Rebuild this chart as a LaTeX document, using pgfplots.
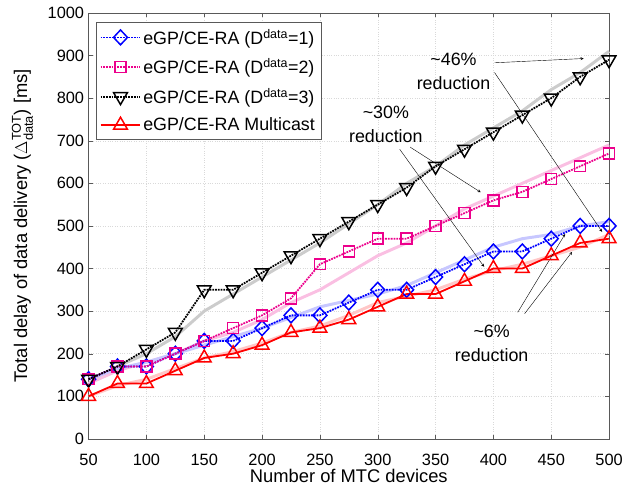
\documentclass[border=0pt]{standalone}
\usepackage{amsmath}
\usepackage{fontspec}
\setmainfont{Liberation Sans}
\usepackage{pgfplots}
\pgfplotsset{compat=1.18}
\begin{document}
\begin{tikzpicture}
\begin{axis}[
  scale only axis, width=523bp, height=428bp,
  xmin=50, xmax=500, ymin=0, ymax=1000,
  xtick={50,100,...,500}, ytick={0,100,...,1000},
  /pgf/number format/assume math mode=true,
  /pgf/number format/1000 sep={},
  tick label style={font=\fontsize{16.5}{18}\selectfont},
  xticklabel style={anchor=base, yshift=-27bp},
  yticklabel style={xshift=-1pt},
  label style={font=\fontsize{18.5}{20}\selectfont},
  xlabel={Number of MTC devices},
  ylabel={Total delay of data delivery ($\Delta^{\text{TOT}}_{\text{data}}$) [ms]},
  xlabel style={at={(axis description cs:0.5,-0.087)}, anchor=center},
  ylabel style={at={(axis description cs:-0.127,0.5)}, anchor=center},
  grid=major, grid style={dotted, gray!30},
  axis line style={gray!70!black},
  tick style={gray!70!black},
  tick align=inside,
  legend style={at={(0.0134,0.979)}, anchor=north west, font=\fontsize{18}{20}\selectfont, draw=gray!70!black, row sep=9pt, inner xsep=4pt, inner ysep=5pt},
  legend cell align=left,
  legend image code/.code={\draw[#1] (0bp,0bp) -- (40bp,0bp); \draw[#1, only marks] plot coordinates {(20bp,0bp)};},
  clip=false,
]
% faded reference curves
\addplot[forget plot, line width=3pt, gray!40] coordinates {(50,130)(75,170)(100,200)(125,240)(150,300)(175,340)(200,380)(225,420)(250,460)(275,505)(300,550)(325,600)(350,640)(375,690)(400,730)(425,770)(450,820)(475,860)(500,910)};
\addplot[forget plot, line width=3pt, magenta!25] coordinates {(50,130)(75,160)(100,180)(125,200)(150,230)(175,250)(200,280)(225,320)(250,350)(275,390)(300,430)(325,460)(350,500)(375,540)(400,570)(425,600)(450,630)(475,660)(500,690)};
\addplot[forget plot, line width=3pt, blue!22] coordinates {(50,140)(75,165)(100,180)(125,200)(150,220)(175,240)(200,260)(225,285)(250,310)(275,325)(300,340)(325,360)(350,390)(375,420)(400,450)(425,470)(450,480)(475,500)(500,510)};
\addplot[forget plot, line width=3pt, red!22] coordinates {(50,100)(75,125)(100,140)(125,165)(150,190)(175,205)(200,225)(225,250)(250,265)(275,290)(300,320)(325,335)(350,350)(375,375)(400,395)(425,410)(450,430)(475,450)(500,480)};
% main curves
\addplot[blue, densely dotted, line width=1.8pt, mark=diamond, mark size=7.5pt, mark options={solid, line width=1.5pt, fill=none, xscale=1.25}] coordinates {(50,140)(75,170)(100,170)(125,200)(150,230)(175,230)(200,260)(225,290)(250,290)(275,320)(300,350)(325,350)(350,380)(375,410)(400,440)(425,440)(450,470)(475,500)(500,500)};
\addlegendentry{eGP/CE-RA (D\textsuperscript{data}=1)}
\addplot[magenta, densely dotted, line width=1.8pt, mark=square, mark size=5.5pt, mark options={solid, line width=1.5pt}] coordinates {(50,140)(75,170)(100,170)(125,200)(150,230)(175,260)(200,290)(225,330)(250,410)(275,440)(300,470)(325,470)(350,500)(375,530)(400,560)(425,580)(450,610)(475,640)(500,670)};
\addlegendentry{eGP/CE-RA (D\textsuperscript{data}=2)}
\addplot[black, densely dotted, line width=1.8pt, mark=triangle, mark size=8pt, mark options={solid, line width=1.5pt, rotate=180}] coordinates {(50,140)(75,170)(100,210)(125,250)(150,350)(175,350)(200,390)(225,430)(250,470)(275,510)(300,550)(325,590)(350,640)(375,680)(400,720)(425,760)(450,800)(475,850)(500,890)};
\addlegendentry{eGP/CE-RA (D\textsuperscript{data}=3)}
\addplot[red, solid, line width=1.8pt, mark=triangle, mark size=8pt, mark options={solid, line width=1.5pt}] coordinates {(50,100)(75,130)(100,130)(125,160)(150,190)(175,200)(200,220)(225,250)(250,260)(275,280)(300,310)(325,340)(350,340)(375,370)(400,400)(425,400)(450,430)(475,460)(500,470)};
\addlegendentry{eGP/CE-RA Multicast}
% annotations
\node[align=center, font=\fontsize{18}{24}\selectfont] at (axis cs:365.5,862) {\textasciitilde46\%\\reduction};
\draw[-stealth, thin] (axis cs:401,883) -- (axis cs:478,893);
\draw[-stealth, thin] (axis cs:401,860) -- (axis cs:494,486);
\node[align=center, font=\fontsize{18}{24}\selectfont] at (axis cs:307,738) {\textasciitilde30\%\\reduction};
\draw[-stealth, thin] (axis cs:328,685) -- (axis cs:389,579);
\draw[-stealth, thin] (axis cs:319,680) -- (axis cs:392,404);
\node[align=center, font=\fontsize{18}{24}\selectfont] at (axis cs:398.5,224) {\textasciitilde6\%\\reduction};
\draw[-stealth, thin] (axis cs:421,297) -- (axis cs:462,481);
\draw[-stealth, thin] (axis cs:427,294) -- (axis cs:468,439);
\end{axis}
\pgfresetboundingbox
\path ([shift={(-89bp,-54bp)}]current axis.south west) rectangle ([shift={(14bp,13bp)}]current axis.north east);
\end{tikzpicture}
\end{document}
